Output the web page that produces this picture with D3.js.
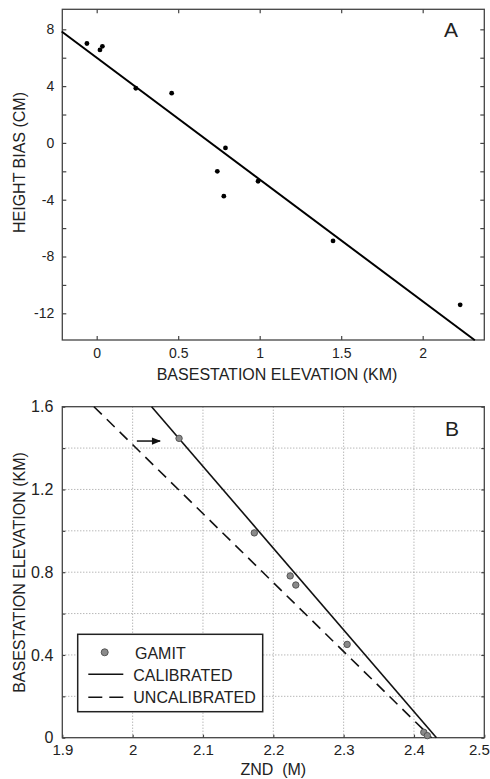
<!DOCTYPE html>
<html>
<head>
<meta charset="utf-8">
<script src="https://cdn.jsdelivr.net/npm/d3@7"></script>
<style>
  body { margin: 0; background: #fff; }
  text { font-family: "Liberation Sans", Arial, Helvetica, sans-serif; fill: #222; }
</style>
</head>
<body>
<svg id="chart" width="490" height="779"></svg>
<script>
// panel A: height bias vs basestation elevation
var elevKm   = [-0.06, 0.02, 0.035, 0.24, 0.46, 0.79, 0.74, 0.78, 0.99, 1.45, 2.23];
var biasCm   = [7.0, 6.55, 6.8, 3.85, 3.5, -0.35, -2.0, -3.75, -2.7, -6.9, -11.4];
var fitAx    = [-0.215, 2.32];
var fitAy    = [7.85, -13.9];
var aTicksX  = [0, 0.5, 1, 1.5, 2];
var aTicksY  = [8, 4, 0, -4, -8, -12];
var aMinorY  = [8, 6, 4, 2, 0, -2, -4, -6, -8, -10, -12];

// panel B: ZND vs basestation elevation
var gamitZnd  = [2.066, 2.173, 2.224, 2.232, 2.305, 2.414, 2.419];
var gamitElev = [1.447, 0.99, 0.782, 0.738, 0.451, 0.026, 0.01];
var calZnd    = [2.027, 2.432];
var calElev   = [1.6, 0];
var uncalZnd  = [1.945, 2.425];
var uncalElev = [1.6, 0];
var arrowZnd  = [2.006, 2.039];
var arrowElev = 1.434;
var bTicksX   = [1.9, 2, 2.1, 2.2, 2.3, 2.4, 2.5];
var bGridY    = [0, 0.2, 0.4, 0.6, 0.8, 1.0, 1.2, 1.4, 1.6];
var bTicksY   = [0, 0.4, 0.8, 1.2, 1.6];
var legendLabels = ["GAMIT", "CALIBRATED", "UNCALIBRATED"];

var svg = d3.select("#chart");
var left = 62.3, right = 484.3;

drawPanelA();
drawPanelB();

function drawPanelA() {
  var top = 9.3, bottom = 340;
  var x = d3.scaleLinear().domain([-0.211, 2.378]).range([left, right]);
  var y = d3.scaleLinear().domain([-13.88, 9.41]).range([bottom, top]);
  var g = svg.append("g");

  // inward ticks on all four sides
  g.append("g").attr("transform", "translate(0," + bottom + ")")
    .call(d3.axisBottom(x).tickValues(aTicksX).tickSizeInner(-4).tickSizeOuter(0)
      .tickPadding(8).tickFormat(d3.format("")))
    .call(styleAxis, 14);
  g.append("g").attr("transform", "translate(0," + top + ")")
    .call(d3.axisTop(x).tickValues(aTicksX).tickSizeInner(-4).tickSizeOuter(0).tickFormat(""))
    .call(styleAxis, 14);
  g.append("g").attr("transform", "translate(" + left + ",0)")
    .call(d3.axisLeft(y).tickValues(aMinorY).tickSizeInner(-4).tickSizeOuter(0)
      .tickPadding(8).tickFormat(function(d) { return aTicksY.indexOf(d) >= 0 ? d : ""; }))
    .call(styleAxis, 14);
  g.append("g").attr("transform", "translate(" + right + ",0)")
    .call(d3.axisRight(y).tickValues(aMinorY).tickSizeInner(-4).tickSizeOuter(0).tickFormat(""))
    .call(styleAxis, 14);

  g.append("rect")
    .attr("x", left).attr("y", top)
    .attr("width", right - left).attr("height", bottom - top)
    .attr("fill", "none").attr("stroke", "#444").attr("stroke-width", 1.3);

  var fit = fitAx.map(function(v, i) { return [v, fitAy[i]]; });
  g.append("path")
    .datum(fit)
    .attr("fill", "none")
    .attr("stroke", "#000")
    .attr("stroke-width", 2)
    .attr("d", d3.line().x(function(d) { return x(d[0]); }).y(function(d) { return y(d[1]); }));

  g.selectAll("circle.pt")
    .data(elevKm)
    .enter().append("circle")
    .attr("class", "pt")
    .attr("cx", function(d) { return x(d); })
    .attr("cy", function(d, i) { return y(biasCm[i]); })
    .attr("r", 2.4)
    .attr("fill", "#000");

  g.append("text").attr("x", 444).attr("y", 36.7)
    .style("font-size", "21px").text("A");

  g.append("text").attr("x", 277).attr("y", 380)
    .attr("text-anchor", "middle").style("font-size", "16px")
    .text("BASESTATION ELEVATION (KM)");
  g.append("text")
    .attr("transform", "translate(25,162.5) rotate(-90)")
    .attr("text-anchor", "middle").style("font-size", "16px")
    .text("HEIGHT BIAS (CM)");
}

function drawPanelB() {
  var top = 406.7, bottom = 737.7;
  var x = d3.scaleLinear().domain([1.9, 2.5]).range([left, right]);
  var y = d3.scaleLinear().domain([0, 1.6]).range([bottom, top]);
  var g = svg.append("g");

  // dotted grid
  g.append("g").selectAll("line.gx")
    .data(bTicksX.slice(1, -1))
    .enter().append("line")
    .attr("x1", function(d) { return x(d); }).attr("x2", function(d) { return x(d); })
    .attr("y1", top).attr("y2", bottom)
    .attr("stroke", "#999").attr("stroke-width", 1).attr("stroke-dasharray", "1,2");
  g.append("g").selectAll("line.gy")
    .data(bGridY.slice(1, -1))
    .enter().append("line")
    .attr("x1", left).attr("x2", right)
    .attr("y1", function(d) { return y(d); }).attr("y2", function(d) { return y(d); })
    .attr("stroke", "#999").attr("stroke-width", 1).attr("stroke-dasharray", "1,2");

  var xAxis = g.append("g").attr("transform", "translate(0," + bottom + ")")
    .call(d3.axisBottom(x).tickValues(bTicksX).tickSizeInner(-3).tickSizeOuter(0)
      .tickPadding(7).tickFormat(d3.format("")))
    .call(styleAxis, 15);
  // last label sits flush against the page edge
  xAxis.selectAll(".tick text").filter(function(d) { return d == 2.5; })
    .attr("text-anchor", "end").attr("x", 5);

  g.append("g").attr("transform", "translate(" + left + ",0)")
    .call(d3.axisLeft(y).tickValues(bGridY).tickSizeInner(-3).tickSizeOuter(0)
      .tickPadding(9).tickFormat(function(d) { return bTicksY.indexOf(d) >= 0 ? d3.format("")(d) : ""; }))
    .call(styleAxis, 16);
  g.append("g").attr("transform", "translate(" + right + ",0)")
    .call(d3.axisRight(y).tickValues(bGridY).tickSizeInner(-3).tickSizeOuter(0).tickFormat(""))
    .call(styleAxis, 15);

  g.append("rect")
    .attr("x", left).attr("y", top)
    .attr("width", right - left).attr("height", bottom - top)
    .attr("fill", "none").attr("stroke", "#444").attr("stroke-width", 1.3);

  var line = d3.line().x(function(d) { return x(d[0]); }).y(function(d) { return y(d[1]); });
  g.append("path")
    .datum(uncalZnd.map(function(v, i) { return [v, uncalElev[i]]; }))
    .attr("fill", "none").attr("stroke", "#111").attr("stroke-width", 1.6)
    .attr("stroke-dasharray", "11,7")
    .attr("d", line);
  g.append("path")
    .datum(calZnd.map(function(v, i) { return [v, calElev[i]]; }))
    .attr("fill", "none").attr("stroke", "#111").attr("stroke-width", 1.6)
    .attr("d", line);

  g.selectAll("circle.gamit")
    .data(gamitZnd)
    .enter().append("circle")
    .attr("class", "gamit")
    .attr("cx", function(d) { return x(d); })
    .attr("cy", function(d, i) { return y(gamitElev[i]); })
    .attr("r", 3.2)
    .attr("fill", "#8a8a8a").attr("stroke", "#555").attr("stroke-width", 1);

  // arrow pointing at the top station
  svg.append("defs").append("marker")
    .attr("id", "head").attr("viewBox", "0 0 10 10")
    .attr("refX", 9).attr("refY", 5)
    .attr("markerWidth", 7).attr("markerHeight", 6)
    .attr("orient", "auto")
    .append("path").attr("d", "M0,1 L10,5 L0,9 Z").attr("fill", "#111");
  g.append("line")
    .attr("x1", x(arrowZnd[0])).attr("x2", x(arrowZnd[1]))
    .attr("y1", y(arrowElev)).attr("y2", y(arrowElev))
    .attr("stroke", "#111").attr("stroke-width", 1.5)
    .attr("marker-end", "url(#head)");

  // legend
  var lg = g.append("g");
  lg.append("rect")
    .attr("x", 77.7).attr("y", 634.3).attr("width", 185).attr("height", 77.4)
    .attr("fill", "#fff").attr("stroke", "#222").attr("stroke-width", 1.5);
  lg.append("circle").attr("cx", 104.7).attr("cy", 652.3).attr("r", 3.5)
    .attr("fill", "#8a8a8a").attr("stroke", "#555");
  lg.append("line").attr("x1", 88.3).attr("x2", 123.3).attr("y1", 674.3).attr("y2", 674.3)
    .attr("stroke", "#111").attr("stroke-width", 1.5);
  lg.append("line").attr("x1", 88.3).attr("x2", 123.3).attr("y1", 697.3).attr("y2", 697.3)
    .attr("stroke", "#111").attr("stroke-width", 1.5).attr("stroke-dasharray", "14,7");
  lg.selectAll("text")
    .data(legendLabels)
    .enter().append("text")
    .attr("x", function(d, i) { return i == 0 ? 135 : 133.3; })
    .attr("y", function(d, i) { return [659.3, 681, 703.3][i]; })
    .style("font-size", "16px")
    .text(function(d) { return d; });

  g.append("text").attr("x", 445).attr("y", 436)
    .style("font-size", "21px").text("B");

  g.append("text").attr("x", 273.3).attr("y", 775)
    .attr("text-anchor", "middle").style("font-size", "16px")
    .style("white-space", "pre")
    .text("ZND  (M)");
  g.append("text")
    .attr("transform", "translate(25,572.5) rotate(-90)")
    .attr("text-anchor", "middle").style("font-size", "16px")
    .text("BASESTATION ELEVATION (KM)");
}

function styleAxis(sel, size) {
  sel.select(".domain").remove();
  sel.selectAll(".tick line").attr("stroke", "#444").attr("stroke-width", 1.2);
  sel.selectAll(".tick text").style("font-size", size + "px").attr("fill", "#222")
    .style("font-family", "'Liberation Sans', Arial, sans-serif");
}
</script>
</body>
</html>
